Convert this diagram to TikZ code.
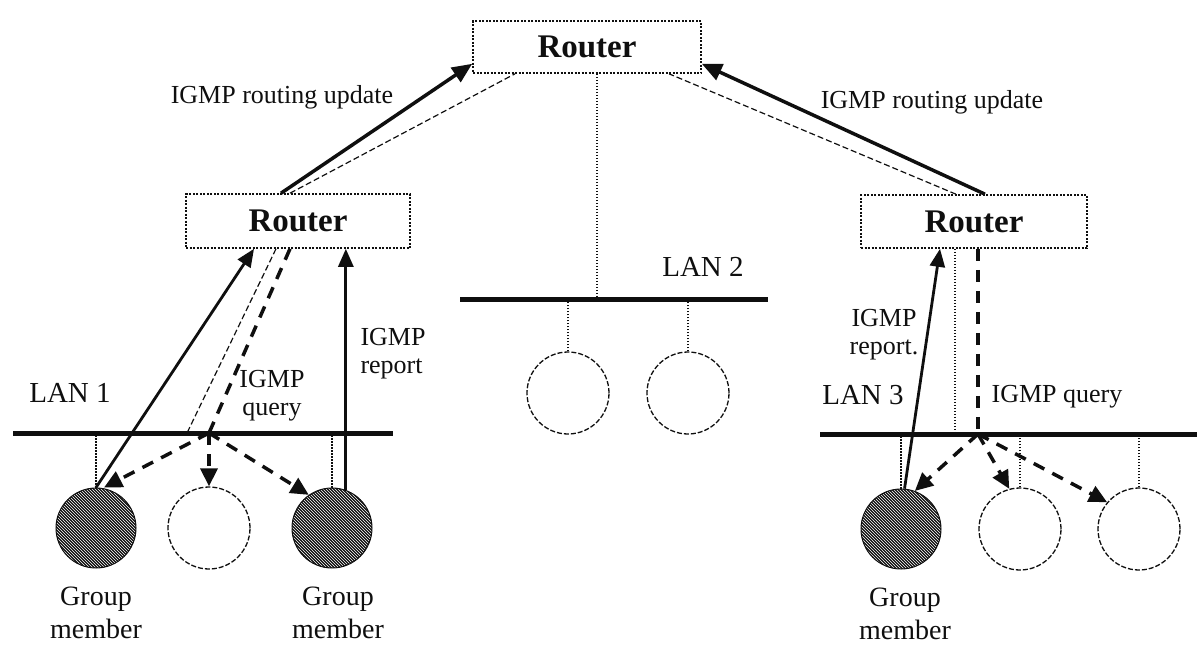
\documentclass[tikz,border=0pt]{standalone}
\usepackage{fontspec}
\setmainfont{Liberation Serif}
\usetikzlibrary{arrows.meta,positioning,patterns}
\definecolor{ink}{RGB}{15,15,15}
\tikzset{
  every picture/.style={color=ink, line width=1pt},
  rbox/.style={draw=ink, dash pattern=on 2pt off 1.5pt, line width=1.6pt, minimum width=226pt, minimum height=53pt, inner sep=0pt, font=\fontsize{33}{35}\selectfont\bfseries},
  bus/.style={line width=5pt},
  host/.style={circle, draw=ink, dash pattern=on 5pt off 2pt, line width=1.3pt, minimum size=82pt, inner sep=0pt},
  member/.style={circle, draw=ink, line width=1pt, preaction={fill=ink}, pattern=north west lines, pattern color=white, minimum size=80pt, inner sep=0pt},
  upd/.style={-{Triangle[length=20pt,width=17pt]}, line width=3.5pt},
  report/.style={-{Triangle[length=18pt,width=15pt]}, line width=2.8pt},
  query/.style={line width=3.5pt, dash pattern=on 12pt off 9pt},
  qarr/.style={query, -{Triangle[length=18pt,width=17pt]}},
  link/.style={line width=1.2pt, dash pattern=on 6pt off 3pt},
  drop/.style={line width=1.6pt, dash pattern=on 1.5pt off 1.5pt},
  lbl/.style={font=\fontsize{26}{28}\selectfont, inner sep=0pt},
  lan/.style={font=\fontsize{29}{30}\selectfont, inner sep=0pt},
  gm/.style={font=\fontsize{28}{33}\selectfont, align=center, inner sep=0pt},
}

\begin{document}
\begin{tikzpicture}[x=1pt, y=-1pt]
  \useasboundingbox (0,0) rectangle (1197,646);
  % routers
  \node[rbox, minimum width=228pt, minimum height=52pt] (t) at (587,47) {Router};
  \node[rbox, minimum width=224pt, minimum height=54pt] (r1) at (298,221) {Router};
  \node[rbox] (r3) at (974,221.5) {Router};
  % routing updates
  \draw[upd] ([xshift=-17pt]r1.north) -- ([yshift=10pt]t.south west);
  \draw[link] ([xshift=-8pt]r1.north) -- ([xshift=-72pt]t.south);
  \draw[upd] ([xshift=11pt]r3.north) -- ([yshift=10pt]t.south east);
  \draw[link] ([xshift=-18pt]r3.north) -- ([xshift=82pt]t.south);
  \node[lbl] at (282,97) {IGMP routing update};
  \node[lbl] at (932,102) {IGMP routing update};
  % LAN 2
  \coordinate (l2a) at (460,299);
  \coordinate (l2b) at (768,299);
  \coordinate (t2) at ([xshift=10pt]t.south);
  \draw[bus] (l2a) -- (l2b);
  \draw[drop] (t2) -- (t2 |- l2a);
  \node[lan] at (703,267) {LAN 2};
  \node[host] (h21) at (568,393) {};
  \node[host] (h22) at (688,393) {};
  \draw[drop] (h21) -- (h21 |- l2a);
  \draw[drop] (h22) -- (h22 |- l2a);
  % LAN 1
  \coordinate (l1a) at (13,433);
  \coordinate (l1b) at (393,433);
  \coordinate (q1) at (209,433);
  \draw[bus] (l1a) -- (l1b);
  \node[lan] at (70,393) {LAN 1};
  \node[member] (m11) at (96,528) {};
  \node[host] (m12) at (209,528) {};
  \node[member] (m13) at (332,528) {};
  \draw[drop] (m11) -- (m11 |- l1a);
  \draw[drop] (m13) -- (m13 |- l1a);
  \draw[report] (m11.north) -- ([xshift=-44pt]r1.south);
  \draw[link] ([xshift=-22pt]r1.south) -- ([xshift=-22pt]q1);
  \draw[query] ([xshift=-8pt]r1.south) -- (q1);
  \draw[qarr] (q1) -- ([xshift=8pt]m11.north);
  \draw[qarr] (q1) -- (m12);
  \draw[qarr] (q1) -- (m13.125);
  \coordinate (p1) at (m13.70);
  \draw[report] (p1) -- (p1 |- r1.south);
  \node[lbl, align=center] at (272,396) {IGMP\\query};
  \node[lbl, align=left, anchor=west] at (360,354) {IGMP\\report};
  \node[gm, below=18pt of m11] {Group\\member};
  \node[gm, below=18pt of m13, xshift=6pt] {Group\\member};
  % LAN 3
  \coordinate (l3a) at (820,434);
  \coordinate (l3b) at (1197,434);
  \coordinate (q3) at (978,434);
  \draw[bus] (l3a) -- (l3b);
  \node[lan] at (863,395) {LAN 3};
  \node[member] (m31) at (901,529) {};
  \node[host] (m32) at (1020,529) {};
  \node[host] (m33) at (1139,529) {};
  \draw[drop] (m31) -- (m31 |- l3a);
  \draw[drop] (m32) -- (m32 |- l3a);
  \draw[drop] (m33) -- (m33 |- l3a);
  \draw[report] (m31.85) -- ([xshift=-34pt]r3.south);
  \coordinate (r3d) at ([xshift=-19pt]r3.south);
  \draw[drop] (r3d) -- (r3d |- l3a);
  \draw[query] ([xshift=4pt]r3.south) -- (q3);
  \draw[qarr] (q3) -- (m31.70);
  \draw[qarr] (q3) -- (m32.105);
  \draw[qarr] (q3) -- (m33.140);
  \node[lbl, align=center] at (884,335) {IGMP\\report.};
  \node[lbl] at (1057,397) {IGMP query};
  \node[gm, below=18pt of m31, xshift=4pt] {Group\\member};
\end{tikzpicture}
\end{document}
